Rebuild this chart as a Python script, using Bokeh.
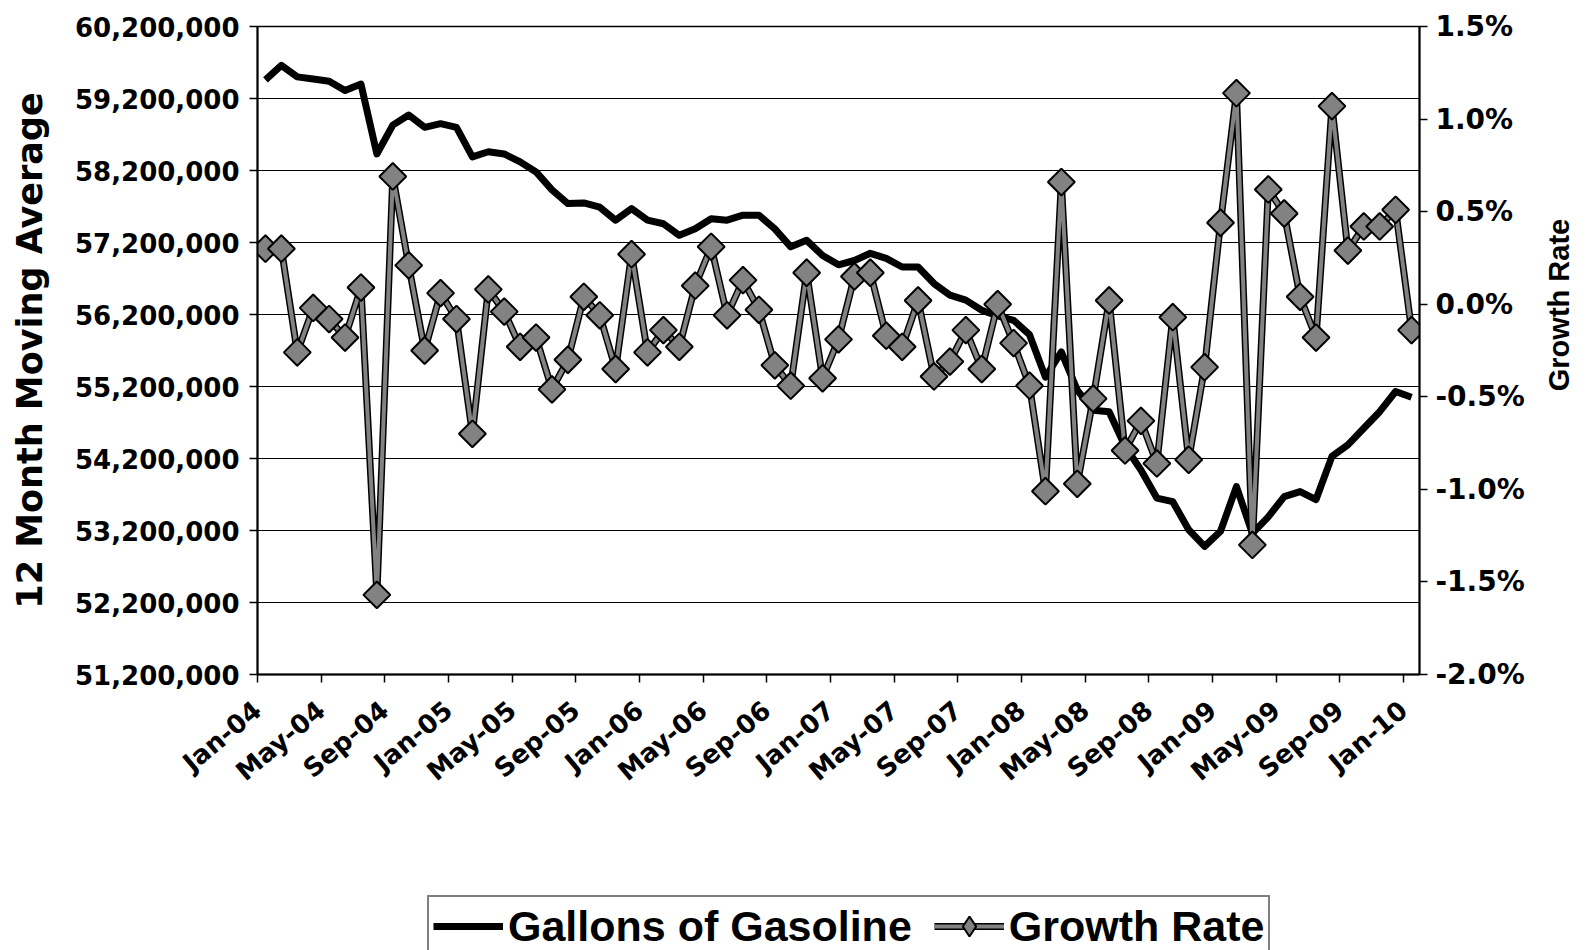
import numpy as np
from bokeh.plotting import figure
from bokeh.layouts import column
from bokeh.models import (Range1d, LinearAxis, FixedTicker, NumeralTickFormatter,
                          PrintfTickFormatter, Legend, LegendItem)
from bokeh.embed import file_html
from bokeh.resources import INLINE

# ---------------- data ----------------
tick_labels = ["Jan-04", "May-04", "Sep-04", "Jan-05", "May-05", "Sep-05", "Jan-06",
               "May-06", "Sep-06", "Jan-07", "May-07", "Sep-07", "Jan-08", "May-08",
               "Sep-08", "Jan-09", "May-09", "Sep-09", "Jan-10"]

# 12 month moving average, gallons of gasoline (monthly, Jan-04 .. Jan-10)
gallons = [59460000, 59660000, 59500000, 59470000, 59440000, 59310000, 59400000, 58430000,
           58830000, 58970000, 58800000, 58850000, 58800000, 58390000, 58460000, 58430000,
           58320000, 58180000, 57930000, 57740000, 57750000, 57690000, 57510000, 57670000,
           57510000, 57460000, 57300000, 57390000, 57530000, 57510000, 57580000, 57580000,
           57390000, 57140000, 57230000, 57020000, 56890000, 56950000, 57050000, 56980000,
           56860000, 56860000, 56630000, 56470000, 56400000, 56260000, 56180000, 56120000,
           55920000, 55330000, 55680000, 55150000, 54870000, 54850000, 54370000, 54040000,
           53650000, 53600000, 53210000, 52980000, 53190000, 53810000, 53160000, 53390000,
           53670000, 53740000, 53630000, 54230000, 54390000, 54620000, 54850000, 55130000,
           55050000]

# growth rate in percent
growth = [0.30, 0.30, -0.26, -0.02, -0.08, -0.18, 0.09, -1.57, 0.69, 0.21, -0.25, 0.06,
          -0.08, -0.70, 0.08, -0.04, -0.23, -0.18, -0.46, -0.30, 0.04, -0.06, -0.35, 0.27,
          -0.26, -0.14, -0.23, 0.10, 0.31, -0.06, 0.13, -0.03, -0.33, -0.44, 0.17, -0.40,
          -0.19, 0.15, 0.17, -0.17, -0.23, 0.02, -0.39, -0.31, -0.14, -0.35, 0.00, -0.21,
          -0.44, -1.01, 0.66, -0.97, -0.51, 0.02, -0.79, -0.63, -0.86, -0.07, -0.84, -0.34,
          0.44, 1.14, -1.30, 0.62, 0.49, 0.04, -0.18, 1.07, 0.29, 0.42, 0.42, 0.51, -0.14]

n = len(gallons)
x = [i + 0.5 for i in range(n)]          # category centres

BOLD_WIDE = "DejaVu Sans"
BOLD_ARIAL = "Liberation Sans"
GRAY = "#828282"
BORDER = dict(min_border_left=257, min_border_right=169)

# ---------------- main figure ----------------
p = figure(width=1594, height=890, output_backend="svg", toolbar_location=None,
           x_range=Range1d(0, n), y_range=Range1d(51_200_000, 60_200_000),
           min_border_top=26, min_border_bottom=216, background_fill_color="white",
           border_fill_color="white", **BORDER)
p.extra_y_ranges = {"growth": Range1d(-2.0, 1.5)}

left_ticker = FixedTicker(ticks=[51_200_000 + k * 1_000_000 for k in range(10)])
xticks = [4 * k for k in range(len(tick_labels))]


def style_axis(ax, font, size, standoff):
    ax.major_label_text_font = font
    ax.major_label_text_font_style = "bold"
    ax.major_label_text_font_size = size
    ax.major_label_text_color = "black"
    ax.major_label_standoff = standoff
    ax.major_tick_out = 8
    ax.major_tick_in = 0
    ax.minor_tick_out = 0
    ax.minor_tick_in = 0
    ax.axis_line_width = 2
    ax.axis_line_color = "black"
    ax.major_tick_line_color = "black"
    ax.major_tick_line_width = 1.5


# x axis
xa = p.below[0]
xa.ticker = FixedTicker(ticks=xticks)
xa.major_label_overrides = {t: lab for t, lab in zip(xticks, tick_labels)}
xa.major_label_orientation = 0.70
style_axis(xa, BOLD_WIDE, "26px", 24)

# left axis
ya = p.left[0]
ya.ticker = left_ticker
ya.formatter = NumeralTickFormatter(format="0,0")
style_axis(ya, BOLD_WIDE, "26px", 10)
ya.axis_label = "12 Month Moving Average"
ya.axis_label_text_font = BOLD_WIDE
ya.axis_label_text_font_style = "bold"
ya.axis_label_text_font_size = "35px"
ya.axis_label_text_color = "black"
ya.axis_label_standoff = 22

# right axis
ra = LinearAxis(y_range_name="growth",
                ticker=FixedTicker(ticks=[-2.0, -1.5, -1.0, -0.5, 0.0, 0.5, 1.0, 1.5]),
                formatter=PrintfTickFormatter(format="%.1f%%"))
style_axis(ra, BOLD_WIDE, "28px", 8)
p.add_layout(ra, "right")

# right axis title, reading bottom-to-top (label starts at its tick and runs upward)
TITLE_AT = -0.47
ta = LinearAxis(y_range_name="growth", ticker=FixedTicker(ticks=[TITLE_AT]),
                major_label_overrides={TITLE_AT: "Growth Rate"})
style_axis(ta, BOLD_ARIAL, "29px", 32)
ta.major_label_orientation = np.pi / 2
ta.axis_line_color = None
ta.major_tick_line_color = None
ta.major_tick_out = 0
p.add_layout(ta, "right")

# grid
p.xgrid.visible = False
p.ygrid.ticker = left_ticker
p.ygrid.grid_line_color = "black"
p.ygrid.grid_line_width = 1.2
p.outline_line_color = "black"
p.outline_line_width = 1.5

# ---------------- series ----------------
p.line(x, gallons, line_color="black", line_width=7, line_join="round")
p.line(x, growth, y_range_name="growth", line_color="black", line_width=7,
       line_join="round")
p.line(x, growth, y_range_name="growth", line_color=GRAY, line_width=4,
       line_join="round")
p.scatter(x, growth, y_range_name="growth", marker="square", angle=np.pi / 4,
          size=19, fill_color=GRAY, line_color="black", line_width=2)

# ---------------- legend strip ----------------
lg = figure(width=1594, height=60, output_backend="svg", toolbar_location=None,
            x_range=Range1d(0, 1), y_range=Range1d(0, 1),
            x_axis_location=None, y_axis_location=None,
            min_border_top=0, min_border_bottom=0, background_fill_color="white",
            border_fill_color="white", outline_line_color=None, **BORDER)
lg.grid.visible = False
nodata = [np.nan]
k_gal = lg.line(nodata, nodata, line_color="black", line_width=7)
k_edge = lg.line(nodata, nodata, line_color="black", line_width=7)
k_core = lg.line(nodata, nodata, line_color=GRAY, line_width=4)
k_pts = lg.scatter(nodata, nodata, marker="diamond", size=24,
                   fill_color=GRAY, line_color="black", line_width=2)

legend = Legend(items=[LegendItem(label="Gallons of Gasoline", renderers=[k_gal]),
                       LegendItem(label="Growth Rate", renderers=[k_edge, k_core, k_pts])],
                orientation="horizontal", location=(170, -7),
                label_text_font=BOLD_ARIAL, label_text_font_style="bold",
                label_text_font_size="43px", label_text_color="black",
                glyph_width=70, glyph_height=50, label_standoff=5, spacing=22,
                padding=4, margin=0, border_line_color="black", border_line_width=2,
                background_fill_color="white", background_fill_alpha=1.0)
lg.add_layout(legend)

layout = column(p, lg, spacing=0)
open("out.html", "w").write(file_html(layout, INLINE))
